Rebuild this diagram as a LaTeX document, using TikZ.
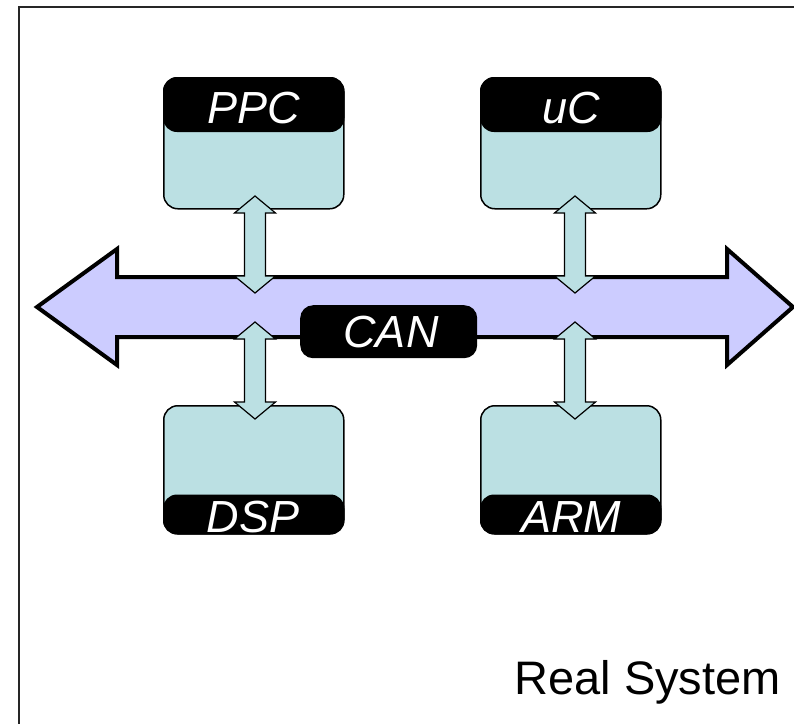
\documentclass[tikz,border=0pt]{standalone}
\usepackage{fontspec}
\setmainfont{Liberation Sans}
\usetikzlibrary{calc}

\definecolor{busfill}{RGB}{204,204,255}
\definecolor{cpufill}{RGB}{187,224,227}

\tikzset{
  x=1pt, y=-1pt,
  frame/.style={draw=black!85, line width=2pt},
  bus/.style={draw=black, line width=4pt, fill=busfill, line join=miter, miter limit=10},
  cpubody/.style={draw=black, line width=1.5pt, fill=cpufill, rounded corners=14pt,
                  minimum width=180pt, minimum height=131pt, inner sep=0pt, anchor=north west},
  cputag/.style={fill=black, rounded corners=14pt},
  taglabel/.style={text=white, font=\fontsize{45}{50}\selectfont\itshape, anchor=base, inner sep=0pt},
  canbox/.style={fill=black, rounded corners=13pt, minimum width=177pt, minimum height=53pt,
                 inner sep=0pt, anchor=north west},
  link/.style={draw=black, line width=1.2pt, fill=cpufill, line join=miter},
  caption/.style={font=\fontsize{47}{52}\selectfont, anchor=base east, inner sep=0pt},
}

% vertical double-headed link between two named points (upper, lower)
\newcommand\vlink[2]{%
  \draw[link] let \p1=(#1), \p2=(#2) in
    (\x1,\y1) -- (\x1+20.5pt,\y1-17pt) -- (\x1+10.5pt,\y1-17pt)
    -- (\x1+10.5pt,\y2+17pt) -- (\x1+20.5pt,\y2+17pt) -- (\x1,\y2)
    -- (\x1-20.5pt,\y2+17pt) -- (\x1-10.5pt,\y2+17pt)
    -- (\x1-10.5pt,\y1-17pt) -- (\x1-20.5pt,\y1-17pt) -- cycle;}

\begin{document}
\begin{tikzpicture}
  \useasboundingbox (0,0) rectangle (794,723);

  % outer frame
  \draw[frame] (19,740) -- (19,7) -- (810,7);

  % CAN bus
  \draw[bus] (37,307) -- (117,249) -- (117,277) -- (727,277) -- (727,249)
    -- (793,307) -- (727,365) -- (727,337) -- (117,337) -- (117,365) -- cycle;

  % processor boxes
  \node[cpubody] (ppc) at (163,77) {};
  \node[cpubody] (uc)  at (480,77) {};
  \node[cpubody, minimum height=128pt] (dsp) at (163,405) {};
  \node[cpubody, minimum height=128pt] (arm) at (480,405) {};

  % name tags
  \path[cputag] (ppc.north west) rectangle ($(ppc.north east)+(0,55)$);
  \path[cputag] (uc.north west) rectangle ($(uc.north east)+(0,55)$);
  \path[cputag] ($(dsp.south west)+(0,-40)$) rectangle (dsp.south east);
  \path[cputag] ($(arm.south west)+(0,-40)$) rectangle (arm.south east);

  \node[taglabel] (ppcname) at (254,123) {PPC};
  \node[taglabel] (ucname)  at (571,123) {uC};
  \node[taglabel] (dspname) at (253,532) {DSP};
  \node[taglabel] (armname) at (571,532) {ARM};

  % bus attachment points
  \coordinate (ppcport) at (255,196);
  \coordinate (busppc)  at (255,293);
  \coordinate (busdsp)  at (255,322);
  \coordinate (dspport) at (255,419);
  \coordinate (ucport)  at (575,196);
  \coordinate (busuc)   at (575,293);
  \coordinate (busarm)  at (575,322);
  \coordinate (armport) at (575,419);

  \vlink{ppcport}{busppc}
  \vlink{busdsp}{dspport}
  \vlink{ucport}{busuc}
  \vlink{busarm}{armport}

  % bus label
  \node[canbox] (can) at (300,305) {};
  \node[taglabel] (canname) at (391,347) {CAN};

  \node[caption] (title) at (781,694) {Real System};
\end{tikzpicture}
\end{document}
